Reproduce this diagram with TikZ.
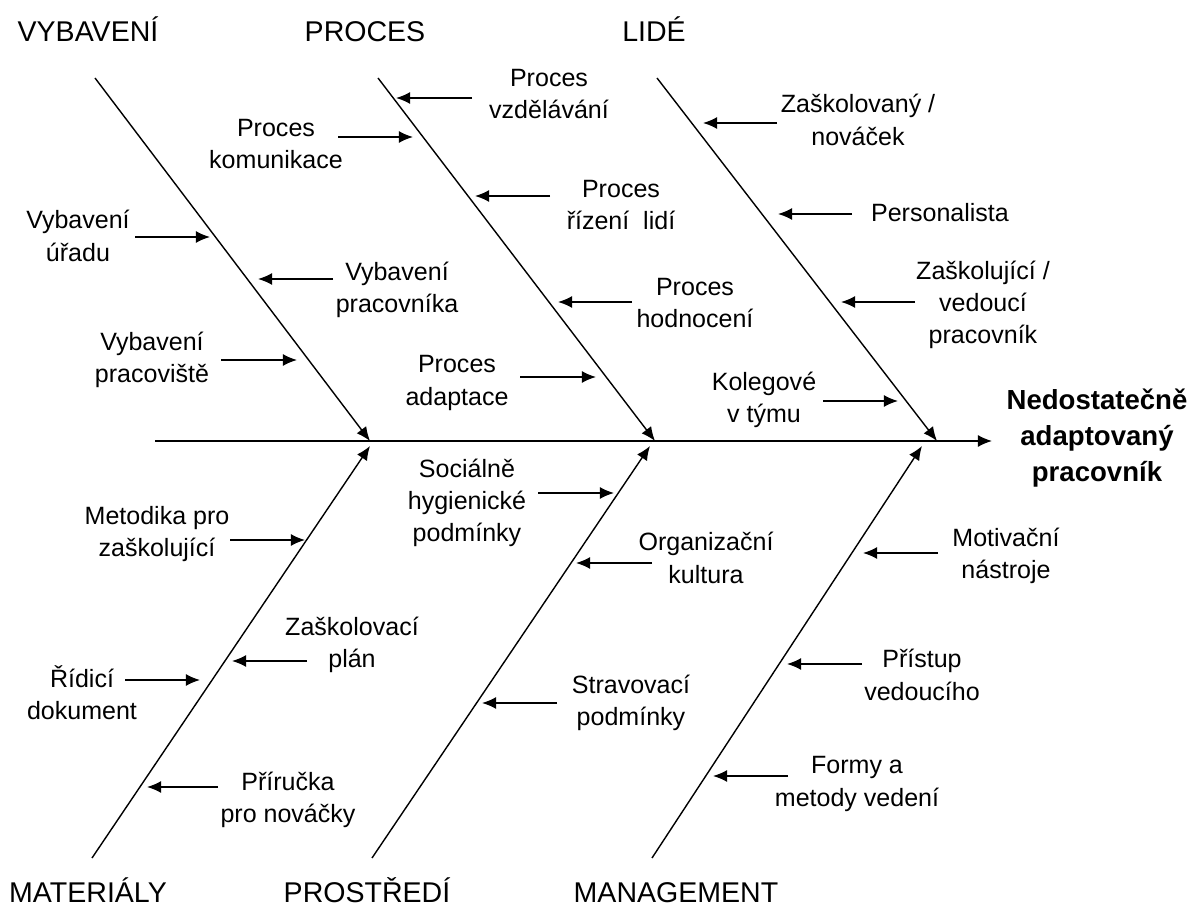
\documentclass[tikz,border=0pt]{standalone}
\usepackage{fontspec}
\setmainfont{Liberation Sans}
\usetikzlibrary{arrows.meta}

\begin{document}
\begin{tikzpicture}[x=0.025cm,y=-0.025cm,
    bone/.style={line width=1pt,-{Latex[length=10pt,width=8.5pt]}},
    cause/.style={line width=1.1pt,-{Latex[length=10pt,width=8.5pt]}},
    lbl/.style={align=center,inner sep=0pt,font=\fontsize{17.8}{23}\selectfont},
    cat/.style={anchor=base,inner sep=0pt,font=\fontsize{20.3}{24}\selectfont}]
    \useasboundingbox (0,0) rectangle (1193,911);
    % spine and effect
    \coordinate (tail) at (155,441);
    \coordinate (head) at (992,441);
    \node[align=center,inner sep=0pt,font=\bfseries\fontsize{19.6}{25.5}\selectfont] (effect) at (1097,438) {Nedostatečně\\adaptovaný\\pracovník};
    \draw[bone] (tail) -- (head);
    % categories
    \node[cat] (vyb) at (88,42) {VYBAVENÍ};
    \node[cat] (proc) at (365,42) {PROCES};
    \node[cat] (lide) at (654,42) {LIDÉ};
    \node[cat] (mat) at (88,902) {MATERIÁLY};
    \node[cat] (prostr) at (367,902) {PROSTŘEDÍ};
    \node[cat] (mgmt) at (676,902) {MANAGEMENT};
    % bones
    \coordinate (vybS) at (95,78);     \coordinate (vybE) at (370,441);
    \coordinate (procS) at (378,78);   \coordinate (procE) at (655,441);
    \coordinate (lideS) at (657,78);   \coordinate (lideE) at (937,441);
    \coordinate (matS) at (92,858);    \coordinate (matE) at (370,446);
    \coordinate (prostrS) at (372,858); \coordinate (prostrE) at (650,446);
    \coordinate (mgmtS) at (652,858);  \coordinate (mgmtE) at (922,446);
    \draw[bone] (vybS) -- (vybE);
    \draw[bone] (procS) -- (procE);
    \draw[bone] (lideS) -- (lideE);
    \draw[bone] (matS) -- (matE);
    \draw[bone] (prostrS) -- (prostrE);
    \draw[bone] (mgmtS) -- (mgmtE);
    % VYBAVENI
    \node[lbl] (uradu) at (78,236) {Vybavení\\úřadu};
    \coordinate (uradu0) at (135,237); \coordinate (uradu1) at (210,237);
    \draw[cause] (uradu0) -- (uradu1);
    \node[lbl] (pracovnika) at (397,290) {Vybavení\\pracovníka};
    \coordinate (pracovnika0) at (333,279); \coordinate (pracovnika1) at (258,279);
    \draw[cause] (pracovnika0) -- (pracovnika1);
    \node[lbl] (pracoviste) at (152,360) {Vybavení\\pracoviště};
    \coordinate (pracoviste0) at (221,360); \coordinate (pracoviste1) at (297,360);
    \draw[cause] (pracoviste0) -- (pracoviste1);
    % PROCES
    \node[lbl] (vzdel) at (549,94) {Proces\\vzdělávání};
    \coordinate (vzdel0) at (472,98); \coordinate (vzdel1) at (396,98);
    \draw[cause] (vzdel0) -- (vzdel1);
    \node[lbl] (komun) at (276,144) {Proces\\komunikace};
    \coordinate (komun0) at (338,137); \coordinate (komun1) at (413,137);
    \draw[cause] (komun0) -- (komun1);
    \node[lbl] (rizeni) at (621,205) {Proces\\řízení~ lidí};
    \coordinate (rizeni0) at (550,196); \coordinate (rizeni1) at (475,196);
    \draw[cause] (rizeni0) -- (rizeni1);
    \node[lbl] (hodnoc) at (695,303) {Proces\\hodnocení};
    \coordinate (hodnoc0) at (632,302); \coordinate (hodnoc1) at (558,302);
    \draw[cause] (hodnoc0) -- (hodnoc1);
    \node[lbl] (adapt) at (457,383) {Proces\\adaptace};
    \coordinate (adapt0) at (520,377); \coordinate (adapt1) at (596,377);
    \draw[cause] (adapt0) -- (adapt1);
    % LIDE
    \node[lbl] (novacek) at (858,120) {Zaškolovaný /\\nováček};
    \coordinate (novacek0) at (777,123); \coordinate (novacek1) at (703,123);
    \draw[cause] (novacek0) -- (novacek1);
    \node[lbl] (personal) at (940,213) {Personalista};
    \coordinate (personal0) at (852,214); \coordinate (personal1) at (778,214);
    \draw[cause] (personal0) -- (personal1);
    \node[lbl] (vedouci) at (983,305) {Zaškolující /\\vedoucí\\pracovník};
    \coordinate (vedouci0) at (915,302); \coordinate (vedouci1) at (841,302);
    \draw[cause] (vedouci0) -- (vedouci1);
    \node[lbl] (kolegove) at (764,400) {Kolegové\\v týmu};
    \coordinate (kolegove0) at (823,401); \coordinate (kolegove1) at (898,401);
    \draw[cause] (kolegove0) -- (kolegove1);
    % MATERIALY
    \node[lbl] (metodika) at (157,534) {Metodika pro\\zaškolující};
    \coordinate (metodika0) at (230,540); \coordinate (metodika1) at (305,540);
    \draw[cause] (metodika0) -- (metodika1);
    \node[lbl] (plan) at (352,645) {Zaškolovací\\plán};
    \coordinate (plan0) at (307,661); \coordinate (plan1) at (232,661);
    \draw[cause] (plan0) -- (plan1);
    \node[lbl] (ridici) at (82,693) {Řídicí\\dokument};
    \coordinate (ridici0) at (125,680); \coordinate (ridici1) at (200,680);
    \draw[cause] (ridici0) -- (ridici1);
    \node[lbl] (prirucka) at (288,800) {Příručka\\pro nováčky};
    \coordinate (prirucka0) at (218,787); \coordinate (prirucka1) at (147,787);
    \draw[cause] (prirucka0) -- (prirucka1);
    % PROSTREDI
    \node[lbl] (socialne) at (467,503) {Sociálně\\hygienické\\podmínky};
    \coordinate (socialne0) at (538,493); \coordinate (socialne1) at (614,493);
    \draw[cause] (socialne0) -- (socialne1);
    \node[lbl] (kultura) at (706,558) {Organizační\\kultura};
    \coordinate (kultura0) at (652,563); \coordinate (kultura1) at (576,563);
    \draw[cause] (kultura0) -- (kultura1);
    \node[lbl] (stravov) at (631,703) {Stravovací\\podmínky};
    \coordinate (stravov0) at (557,703); \coordinate (stravov1) at (482,703);
    \draw[cause] (stravov0) -- (stravov1);
    % MANAGEMENT
    \node[lbl] (motiv) at (1006,556) {Motivační\\nástroje};
    \coordinate (motiv0) at (938,553); \coordinate (motiv1) at (863,553);
    \draw[cause] (motiv0) -- (motiv1);
    \node[lbl] (pristup) at (922,675) {Přístup\\vedoucího};
    \coordinate (pristup0) at (862,664); \coordinate (pristup1) at (787,664);
    \draw[cause] (pristup0) -- (pristup1);
    \node[lbl] (formy) at (857,784) {Formy a\\metody vedení};
    \coordinate (formy0) at (788,776); \coordinate (formy1) at (713,776);
    \draw[cause] (formy0) -- (formy1);
\end{tikzpicture}
\end{document}
